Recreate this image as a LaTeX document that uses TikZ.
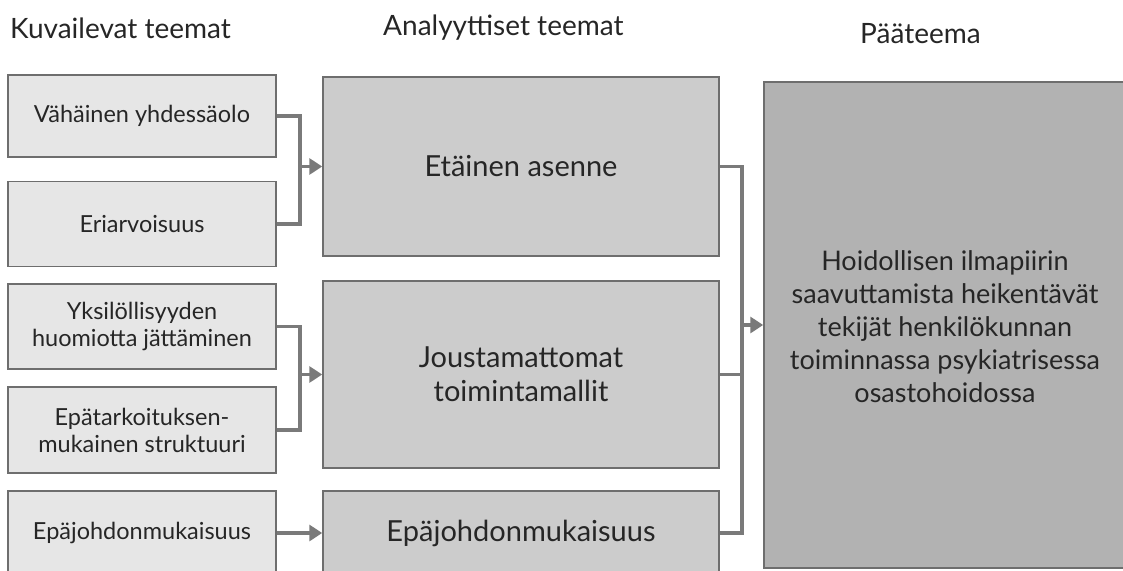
\documentclass[tikz,border=0pt]{standalone}
\usepackage{fontspec}
\setmainfont{Lato}
\usetikzlibrary{arrows.meta}
\definecolor{txt}{HTML}{262626}
\definecolor{edge}{HTML}{6E6E6E}
\definecolor{conn}{HTML}{7A7A7A}
\definecolor{fillA}{HTML}{E6E6E6}
\definecolor{fillB}{HTML}{CCCCCC}
\definecolor{fillC}{HTML}{B2B2B2}
\tikzset{
  base/.style={draw=edge, line width=1.5pt, text=txt, align=center, inner sep=0pt, anchor=center},
  leftbox/.style={base, fill=fillA, minimum width=268pt, font=\fontsize{23.5}{27}\selectfont},
  midbox/.style={base, fill=fillB, minimum width=396pt, font=\fontsize{29}{34}\selectfont},
  mainbox/.style={base, fill=fillC},
  bigtxt/.style={text=txt, align=center, inner sep=0pt, font=\fontsize{27}{33}\selectfont},
  header/.style={text=txt, inner sep=0pt, font=\fontsize{28}{32}\selectfont},
  link/.style={draw=conn, line width=3.2pt},
  arr/.style={link, -{Triangle[length=13pt,width=16pt]}},
}
\begin{document}
\begin{tikzpicture}[x=1pt,y=-1pt]
\useasboundingbox (0,0) rectangle (1123,570);
\clip (0,0) rectangle (1123,570);
% headers
\node[header, anchor=west] (h1) at (10,28) {Kuvailevat teemat};
\node[header, anchor=west] (h2) at (383,28) {Analyyttiset teemat};
\node[header, anchor=west] (h3) at (860,34) {Pääteema};
% left boxes
\node[leftbox, minimum height=82pt] (l1) at (142,116) {Vähäinen yhdessäolo};
\node[leftbox, minimum height=85pt] (l2) at (142,224) {Eriarvoisuus};
\node[leftbox, minimum height=85pt] (l3) at (142,326.5) {Yksilöllisyyden\\huomiotta jättäminen};
\node[leftbox, minimum height=86pt] (l4) at (142,430) {Epätarkoituksen-\\mukainen struktuuri};
\node[leftbox, minimum height=84pt] (l5) at (142,533) {Epäjohdonmukaisuus};
% middle boxes
\node[midbox, minimum height=179pt] (m1) at (521,166.5) {Etäinen asenne};
\node[midbox, minimum height=187pt] (m2) at (521,374.5) {Joustamattomat\\toimintamallit};
\node[midbox, minimum height=84pt] (m3) at (521,533) {Epäjohdonmukaisuus};
% main box
\node[mainbox, minimum width=370pt, minimum height=486pt] (big) at (949,325) {};
\node[bigtxt] (bigtext) at (945,327)
  {Hoidollisen ilmapiirin\\saavuttamista heikentävät\\tekijät henkilökunnan\\toiminnassa psykiatrisessa\\osastohoidossa};
% connectors
\coordinate (j1) at (300,0);
\coordinate (j2) at (742,0);
\draw[link] (l1.east) -| (j1 |- l2.east) -- (l2.east);
\draw[arr] (j1 |- m1.west) -- (m1.west);
\draw[link] (l3.east) -| (j1 |- l4.east) -- (l4.east);
\draw[arr] (j1 |- m2.west) -- (m2.west);
\draw[arr] (l5.east) -- (m3.west);
\draw[link] (m1.east) -| (j2 |- m3.east) -- (m3.east);
\draw[link] (m2.east) -- (j2 |- m2.east);
\draw[arr] (j2 |- big.center) -- (big.west |- big.center);
\end{tikzpicture}
\end{document}
